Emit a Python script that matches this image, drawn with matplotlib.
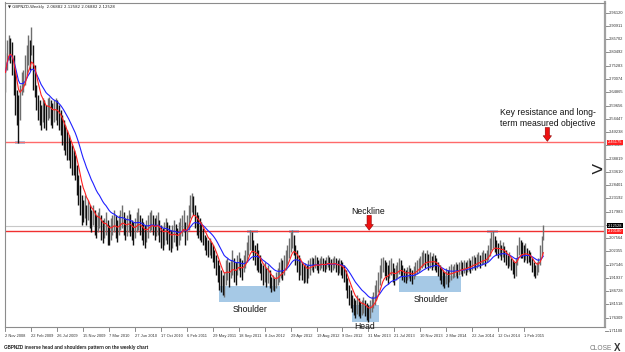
import numpy as np
import pandas as pd
import matplotlib
matplotlib.use('Agg')
import matplotlib.pyplot as plt
from matplotlib.transforms import blended_transform_factory
from matplotlib.patches import Rectangle

plt.rcParams['font.family'] = ['Liberation Sans', 'DejaVu Sans']

# weekly GBPNZD bars (high / low)
highs = [
    2.803, 2.854, 2.874, 2.862, 2.846, 2.795, 2.736, 2.658, 2.638, 2.677,
    2.728, 2.736, 2.795, 2.834, 2.874, 2.854, 2.905, 2.834, 2.756, 2.677,
    2.638, 2.618, 2.598, 2.626, 2.618, 2.598, 2.626, 2.630, 2.618, 2.607,
    2.618, 2.626, 2.618, 2.598, 2.579, 2.559, 2.540, 2.520, 2.500, 2.481,
    2.461, 2.442, 2.422, 2.402, 2.363, 2.324, 2.284, 2.245, 2.225, 2.245,
    2.206, 2.225, 2.206, 2.186, 2.206, 2.186, 2.166, 2.178, 2.194, 2.166,
    2.147, 2.155, 2.178, 2.147, 2.127, 2.155, 2.166, 2.186, 2.166, 2.147,
    2.166, 2.186, 2.206, 2.178, 2.155, 2.166, 2.186, 2.170, 2.147, 2.139,
    2.155, 2.178, 2.194, 2.166, 2.155, 2.139, 2.127, 2.147, 2.166, 2.178,
    2.186, 2.166, 2.155, 2.166, 2.178, 2.147, 2.127, 2.115, 2.139, 2.155,
    2.139, 2.127, 2.108, 2.127, 2.147, 2.131, 2.115, 2.139, 2.155, 2.166,
    2.186, 2.139, 2.166, 2.206, 2.245, 2.253, 2.241, 2.206, 2.178, 2.166,
    2.155, 2.139, 2.115, 2.088, 2.080, 2.068, 2.076, 2.060, 2.049, 2.029,
    2.009, 1.990, 1.970, 1.951, 1.931, 1.943, 1.990, 1.998, 1.982, 1.990,
    2.029, 1.998, 1.982, 2.009, 2.021, 1.998, 1.990, 2.009, 2.029, 2.060,
    2.088, 2.108, 2.100, 2.068, 2.049, 2.056, 2.029, 2.009, 1.978, 1.970,
    1.982, 1.958, 1.970, 1.951, 1.923, 1.931, 1.919, 1.943, 1.958, 1.982,
    1.998, 1.990, 2.009, 2.029, 2.049, 2.076, 2.100, 2.108, 2.088, 2.049,
    2.029, 2.009, 1.998, 1.982, 1.970, 1.978, 1.970, 1.990, 1.998, 2.002,
    1.998, 2.009, 2.002, 1.990, 1.998, 2.005, 1.998, 1.990, 2.002, 2.009,
    2.002, 1.994, 1.998, 2.005, 1.998, 1.990, 1.998, 1.990, 1.982, 1.970,
    1.951, 1.919, 1.892, 1.872, 1.852, 1.841, 1.833, 1.852, 1.841, 1.825,
    1.833, 1.844, 1.833, 1.821, 1.813, 1.833, 1.848, 1.864, 1.892, 1.911,
    1.943, 1.970, 1.998, 2.002, 1.990, 1.982, 1.970, 1.990, 1.998, 1.978,
    1.958, 1.970, 1.982, 1.998, 1.990, 1.970, 1.958, 1.951, 1.962, 1.970,
    1.958, 1.951, 1.966, 1.982, 1.990, 1.998, 2.005, 2.021, 2.029, 2.017,
    2.029, 2.013, 2.021, 2.005, 2.017, 2.009, 1.998, 1.982, 1.970, 1.958,
    1.951, 1.943, 1.958, 1.951, 1.966, 1.974, 1.966, 1.974, 1.982, 1.974,
    1.982, 1.990, 1.982, 1.990, 1.982, 1.990, 1.998, 1.990, 2.005, 2.009,
    2.002, 2.013, 2.021, 2.009, 2.021, 2.029, 2.017, 2.029, 2.049, 2.076,
    2.100, 2.104, 2.084, 2.068, 2.056, 2.068, 2.049, 2.060, 2.045, 2.029,
    2.009, 2.021, 1.998, 1.990, 1.982, 1.998, 2.049, 2.080, 2.068, 2.060,
    2.049, 2.056, 2.037, 2.029, 2.021, 1.998, 1.982, 1.970, 1.982, 1.998,
    2.049, 2.084, 2.126,
]
lows = [
    2.650, 2.736, 2.775, 2.764, 2.716, 2.638, 2.559, 2.520, 2.450, 2.540,
    2.638, 2.650, 2.677, 2.716, 2.756, 2.736, 2.795, 2.658, 2.630, 2.579,
    2.540, 2.520, 2.500, 2.532, 2.508, 2.500, 2.540, 2.548, 2.520, 2.508,
    2.532, 2.540, 2.520, 2.500, 2.481, 2.442, 2.422, 2.402, 2.382, 2.382,
    2.351, 2.324, 2.324, 2.304, 2.245, 2.206, 2.166, 2.127, 2.139, 2.155,
    2.127, 2.147, 2.115, 2.100, 2.127, 2.088, 2.076, 2.100, 2.115, 2.068,
    2.056, 2.076, 2.088, 2.049, 2.049, 2.068, 2.088, 2.100, 2.076, 2.060,
    2.088, 2.108, 2.115, 2.088, 2.068, 2.084, 2.100, 2.084, 2.068, 2.049,
    2.076, 2.100, 2.108, 2.088, 2.068, 2.049, 2.037, 2.060, 2.076, 2.100,
    2.108, 2.088, 2.068, 2.084, 2.088, 2.060, 2.037, 2.029, 2.049, 2.068,
    2.053, 2.029, 2.021, 2.037, 2.060, 2.045, 2.029, 2.049, 2.068, 2.084,
    2.100, 2.049, 2.068, 2.108, 2.155, 2.178, 2.166, 2.115, 2.088, 2.076,
    2.068, 2.060, 2.049, 2.029, 2.009, 2.001, 2.009, 1.998, 1.982, 1.958,
    1.931, 1.903, 1.872, 1.864, 1.852, 1.844, 1.892, 1.911, 1.884, 1.919,
    1.931, 1.903, 1.892, 1.931, 1.951, 1.923, 1.911, 1.943, 1.958, 1.982,
    2.009, 2.029, 2.021, 1.990, 1.970, 1.951, 1.943, 1.939, 1.911, 1.892,
    1.903, 1.884, 1.899, 1.880, 1.864, 1.872, 1.868, 1.880, 1.892, 1.903,
    1.919, 1.911, 1.931, 1.951, 1.970, 1.998, 2.021, 2.037, 2.009, 1.970,
    1.943, 1.911, 1.931, 1.911, 1.899, 1.903, 1.899, 1.919, 1.931, 1.951,
    1.943, 1.958, 1.951, 1.939, 1.951, 1.958, 1.947, 1.943, 1.954, 1.962,
    1.951, 1.943, 1.951, 1.958, 1.943, 1.931, 1.939, 1.931, 1.919, 1.903,
    1.872, 1.841, 1.813, 1.801, 1.786, 1.774, 1.762, 1.778, 1.770, 1.762,
    1.774, 1.782, 1.770, 1.754, 1.746, 1.762, 1.786, 1.801, 1.813, 1.833,
    1.864, 1.892, 1.919, 1.943, 1.927, 1.911, 1.896, 1.919, 1.931, 1.903,
    1.892, 1.911, 1.919, 1.935, 1.927, 1.911, 1.903, 1.899, 1.911, 1.919,
    1.907, 1.896, 1.915, 1.927, 1.935, 1.943, 1.951, 1.958, 1.966, 1.958,
    1.970, 1.951, 1.958, 1.951, 1.962, 1.951, 1.943, 1.927, 1.911, 1.896,
    1.888, 1.880, 1.896, 1.884, 1.903, 1.911, 1.919, 1.923, 1.927, 1.919,
    1.931, 1.935, 1.927, 1.939, 1.931, 1.943, 1.947, 1.939, 1.951, 1.958,
    1.951, 1.958, 1.966, 1.958, 1.970, 1.974, 1.966, 1.982, 1.990, 2.005,
    2.029, 2.037, 2.021, 2.009, 1.998, 2.005, 1.990, 2.001, 1.982, 1.970,
    1.958, 1.966, 1.951, 1.935, 1.919, 1.927, 1.970, 2.009, 1.998, 1.998,
    1.982, 1.990, 1.978, 1.982, 1.970, 1.943, 1.927, 1.919, 1.931, 1.943,
    1.970, 2.009, 2.069,
]

date_labels = ['2 Nov 2008', '22 Feb 2009', '26 Jul 2009', '15 Nov 2009', '7 Mar 2010',
               '27 Jun 2010', '17 Oct 2010', '6 Feb 2011', '29 May 2011', '18 Sep 2011',
               '8 Jan 2012', '29 Apr 2012', '19 Aug 2012', '9 Dec 2012', '31 Mar 2013',
               '21 Jul 2013', '10 Nov 2013', '2 Mar 2014', '22 Jun 2014', '12 Oct 2014',
               '1 Feb 2015']
date_step = 16  # bars between time labels

price_top = 2.96120
price_bottom = 1.71100
n_price_ticks = 25

resistance = 2.45175
neckline = 2.10180
last_price = 2.12528

df = pd.DataFrame({'high': highs, 'low': lows})
df['mid'] = (df['high'] + df['low']) / 2
df['ma_fast'] = df['mid'].ewm(span=8).mean()
df['ma_slow'] = df['mid'].ewm(span=21).mean()
x = np.arange(len(df))

fig = plt.figure(figsize=(6.25, 3.52), dpi=100)
ax = fig.add_axes([5 / 625, 25 / 352, 600 / 625, 324.5 / 352])
ax.set_xlim(-0.3, 370.1)
ax.set_ylim(1.7266, 3.0013)
ax.set_xticks([])
ax.set_yticks([])
for s in ax.spines.values():
    s.set_color('#8c8c8c')
    s.set_linewidth(0.8)
ax.spines['right'].set_linewidth(1.6)
ax.spines['right'].set_color('#a0a0a0')

# highlight boxes
box_col = '#a6c9e6'
boxes = [(132, 1.825, 37.5, 0.063), (214, 1.746, 16.5, 0.067), (243, 1.864, 38, 0.063),
         (149, 2.096, 7, 0.012), (175, 2.096, 6, 0.012), (297, 2.096, 7, 0.012),
         (6, 2.445, 6, 0.012)]
for bx, by, bw, bh in boxes:
    ax.add_patch(Rectangle((bx, by), bw, bh, fc=box_col, ec='none', zorder=1))

# horizontal levels
ax.axhline(last_price, color='#c8c8c8', lw=0.8, zorder=1.5)
ax.axhline(resistance, color='#ff6a6a', lw=1.0, zorder=1.5)
ax.axhline(neckline, color='#f03030', lw=1.0, zorder=1.5)

# bars
up = df['mid'].diff().fillna(0) >= 0
ax.vlines(x[up], df['low'][up], df['high'][up], colors='#6e6e6e', lw=1.0, zorder=2)
ax.vlines(x[~up], df['low'][~up], df['high'][~up], colors='#111111', lw=1.0, zorder=2)

ax.plot(x, df['ma_slow'], color='#2020ff', lw=0.8, zorder=3)
ax.plot(x, df['ma_fast'], color='#ff2020', lw=0.8, zorder=3)

# annotations
txt = dict(fontsize=6.2, color='#111111', ha='center', va='center')
ax.text(151, 1.797, 'Shoulder', **txt)
ax.text(222, 1.729, 'Head', **txt)
ax.text(262.7, 1.833, 'Shoulder', **txt)
ax.text(223.8, 2.182, 'Neckline', **txt)
ax.text(335, 2.547, 'Key resistance and long-\nterm measured objective', linespacing=1.3, **txt)

arrow = dict(arrowstyle='simple,head_length=0.5,head_width=0.75,tail_width=0.38',
             fc='#ee1111', ec='#8b0000', lw=0.4, mutation_scale=8, shrinkA=0, shrinkB=0)
ax.annotate('', xy=(224.5, 2.107), xytext=(224.5, 2.165), arrowprops=arrow)
ax.annotate('', xy=(334.5, 2.456), xytext=(334.5, 2.510), arrowprops=arrow)

# right price scale
lab_fs = 2.9
tr = blended_transform_factory(ax.transAxes, ax.transData)
for v in np.linspace(price_top, price_bottom, n_price_ticks):
    ax.plot([1.0, 1.005], [v, v], transform=tr, clip_on=False, color='#777777', lw=0.6)
    ax.text(1.006, v, f'{v:.5f}', transform=tr, fontsize=lab_fs, va='center', ha='left',
            color='#333333', clip_on=False)
for v, c in [(resistance, '#ff2020'), (neckline, '#ff2020'), (last_price, '#000000')]:
    ax.text(1.005, v, f'{v:.5f}', transform=tr, fontsize=lab_fs, va='center',
            ha='left', color='white', clip_on=False,
            bbox=dict(fc=c, ec='none', pad=0.5))

# time scale
trx = blended_transform_factory(ax.transData, ax.transAxes)
for k, lab in enumerate(date_labels):
    xi = k * date_step
    ax.plot([xi, xi], [0, -0.012], transform=trx, clip_on=False, color='#777777', lw=0.6)
    ax.text(xi, -0.028, lab, transform=trx, fontsize=2.9, ha='left', va='center',
            color='#333333', clip_on=False)

ax.text(0.986, 0.48, '>', transform=ax.transAxes, fontsize=15, color='#222222',
        ha='center', va='center')

fig.text(8 / 625, 1 - 7 / 352, '\u25bc GBPNZD,Weekly  2.06882 2.12582 2.06882 2.12528',
         fontsize=2.8, va='center', ha='left', color='#222222', family=['DejaVu Sans'])
fig.text(4 / 625, 1 - 347 / 352, 'GBPNZD inverse head and shoulders pattern on the weekly chart',
         fontsize=3.3, fontweight='bold', va='center', ha='left', color='#222222')
fig.text(612 / 625, 1 - 348 / 352, 'CLOSE', fontsize=4.8, va='center', ha='right', color='#777777')
fig.text(614 / 625, 1 - 348 / 352, 'X', fontsize=7, fontweight='bold', va='center',
         ha='left', color='#333333')

fig.savefig('out.png', dpi=100)
